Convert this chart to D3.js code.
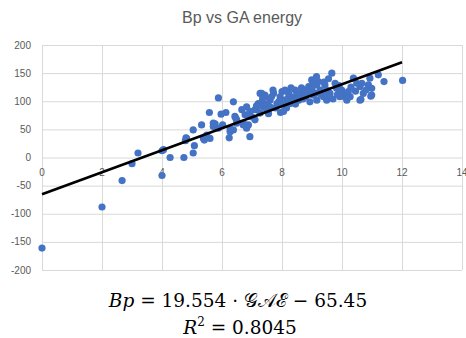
<!DOCTYPE html>
<html>
<head>
    <meta charset="utf-8">
    <script src="https://d3js.org/d3.v7.min.js"></script>
    <style>
        body { margin: 0; background: #fff; }
        svg { display: block; }
    </style>
</head>
<body>
    <svg id="chart" width="466" height="338"></svg>

    <script>
        // data
        const gae = [0, 2, 2.67, 3.0, 3.2, 4.0, 4.0, 4.05, 4.27, 4.73, 4.8, 4.78, 4.82, 5.04, 5.08, 5.04,
            5.32, 5.38, 5.41, 5.49, 5.6, 5.71, 5.77, 5.88, 5.58, 5.88, 5.97, 6.13, 5.71, 6.02, 6.46, 6.49,
            6.27, 6.24, 6.38, 6.38, 6.27, 6.49, 6.71, 6.82, 6.93, 6.43, 6.66, 6.82, 6.77, 6.93, 6.88, 6.71,
            7.1, 7.1, 7.21, 7.32, 7.27, 7.38, 7.49, 7.43, 7.6, 7.72, 7.83, 7.78, 7.94, 8.0, 8.11, 8.22,
            8.28, 8.39, 8.44, 8.56, 8.61, 8.72, 8.78, 8.89, 8.93, 9.04, 9.1, 9.21, 9.66, 8.99, 9.16, 9.27,
            9.43, 9.49, 9.6, 9.77, 9.82, 9.99, 10.04, 10.1, 10.16, 10.27, 10.38, 10.49, 10.6, 10.66, 10.71, 10.6,
            10.93, 10.99, 10.99, 10.88, 11.21, 11.4, 12.02, 9.16, 9.38, 9.49, 9.04, 8.93, 9.93, 10.21, 10.63, 10.96,
            6.93, 7.16, 7.27, 7.38, 7.43, 7.5, 7.6, 7.9, 8.05, 8.2, 8.35, 8.5, 8.7, 8.8, 9.0, 9.3,
            9.5, 9.7, 9.85, 7.35, 7.65, 8.15, 8.45, 7.55, 7.0, 7.15, 8.65, 9.4, 9.55, 9.9, 10.3, 10.45,
            10.8, 9.15, 8.1, 8.3, 7.7, 7.95, 8.05];
        const bp = [-161, -88, -41, -11, 8, -32, 12, 14, 0, 0, 35, 30, 34, 8, 21, 49,
            58, 34, 31, 40, 34, 55, 60, 52, 80, 106, 77, 80, 61, 58, 70, 61,
            46, 35, 99, 49, 51, 67, 61, 52, 37, 73, 85, 90, 76, 76, 58, 58,
            67, 85, 96, 114, 79, 90, 85, 108, 102, 114, 96, 88, 108, 117, 102, 114,
            96, 108, 120, 102, 114, 120, 108, 126, 117, 129, 114, 135, 150, 138, 129, 120,
            129, 120, 114, 132, 123, 120, 114, 108, 102, 108, 141, 132, 126, 132, 114, 102,
            141, 123, 111, 129, 147, 135, 137, 102, 108, 102, 111, 99, 108, 117, 103, 109,
            82, 85, 114, 96, 111, 95, 90, 100, 95, 105, 100, 110, 104, 116, 122, 112,
            110, 104, 112, 104, 108, 88, 95, 78, 72, 92, 124, 134, 140, 128, 125, 118,
            120, 144, 120, 124, 120, 80, 82];

        const xTicks = [0, 2, 4, 6, 8, 10, 12, 14];
        const yTicks = [-200, -150, -100, -50, 0, 50, 100, 150, 200];

        // linear fit shown on the chart
        const slope = 19.554, intercept = -65.45;
        const fitRange = [0, 12];

        const svg = d3.select("#chart");

        const x = d3.scaleLinear().domain([0, 14]).range([42, 462]);
        const y = d3.scaleLinear().domain([-200, 200]).range([270, 45]);

        const grey = "#d9d9d9", labelColor = "#595959";

        // title
        svg.append("text")
            .attr("x", 242).attr("y", 23)
            .attr("text-anchor", "middle")
            .attr("font-family", "Liberation Sans, Arial, sans-serif")
            .attr("font-size", "16px")
            .attr("fill", labelColor)
            .text("Bp vs GA energy");

        // gridlines
        svg.append("g").selectAll("line")
            .data(yTicks)
            .join("line")
            .attr("x1", x(0)).attr("x2", x(14))
            .attr("y1", d => y(d) + 0.5).attr("y2", d => y(d) + 0.5)
            .attr("stroke", grey);

        svg.append("g").selectAll("line")
            .data(xTicks)
            .join("line")
            .attr("x1", d => x(d) + 0.5).attr("x2", d => x(d) + 0.5)
            .attr("y1", y(200)).attr("y2", y(-200))
            .attr("stroke", grey);

        // y labels
        svg.append("g").selectAll("text")
            .data(yTicks)
            .join("text")
            .attr("x", 31).attr("y", d => y(d) + 3.5)
            .attr("text-anchor", "end")
            .attr("font-family", "Liberation Sans, Arial, sans-serif")
            .attr("font-size", "10px")
            .attr("fill", labelColor)
            .text(d => d);

        // x labels sit just under the zero line (last one runs into the edge, as in the original)
        svg.append("g").selectAll("text")
            .data(xTicks)
            .join("text")
            .attr("x", d => x(d)).attr("y", y(0) + 18)
            .attr("text-anchor", "middle")
            .attr("font-family", "Liberation Sans, Arial, sans-serif")
            .attr("font-size", "10px")
            .attr("fill", labelColor)
            .text(d => d);

        // points
        svg.append("g").selectAll("circle")
            .data(d3.zip(gae, bp))
            .join("circle")
            .attr("cx", d => x(d[0]))
            .attr("cy", d => y(d[1]))
            .attr("r", 3.6)
            .attr("fill", "#4472c4");

        // trend line
        svg.append("line")
            .attr("x1", x(fitRange[0])).attr("y1", y(slope * fitRange[0] + intercept))
            .attr("x2", x(fitRange[1])).attr("y2", y(slope * fitRange[1] + intercept))
            .attr("stroke", "#000")
            .attr("stroke-width", 2.6);

        // equation underneath
        const eq = svg.append("g")
            .attr("font-family", "DejaVu Serif, Liberation Serif, serif")
            .attr("font-size", "18.5px")
            .attr("fill", "#000")
            .attr("text-anchor", "middle");

        const l1 = eq.append("text").attr("x", 238).attr("y", 307);
        l1.append("tspan").attr("font-style", "italic").text("Bp");
        l1.append("tspan").text(" = 19.554 · ");
        l1.append("tspan").text("𝒢𝒜ℰ");
        l1.append("tspan").text(" − 65.45");

        const l2 = eq.append("text").attr("x", 240).attr("y", 334);
        l2.append("tspan").attr("font-style", "italic").text("R");
        l2.append("tspan").attr("font-size", "12px").attr("dy", -8).text("2");
        l2.append("tspan").attr("dy", 8).text(" = 0.8045");
    </script>
</body>
</html>
